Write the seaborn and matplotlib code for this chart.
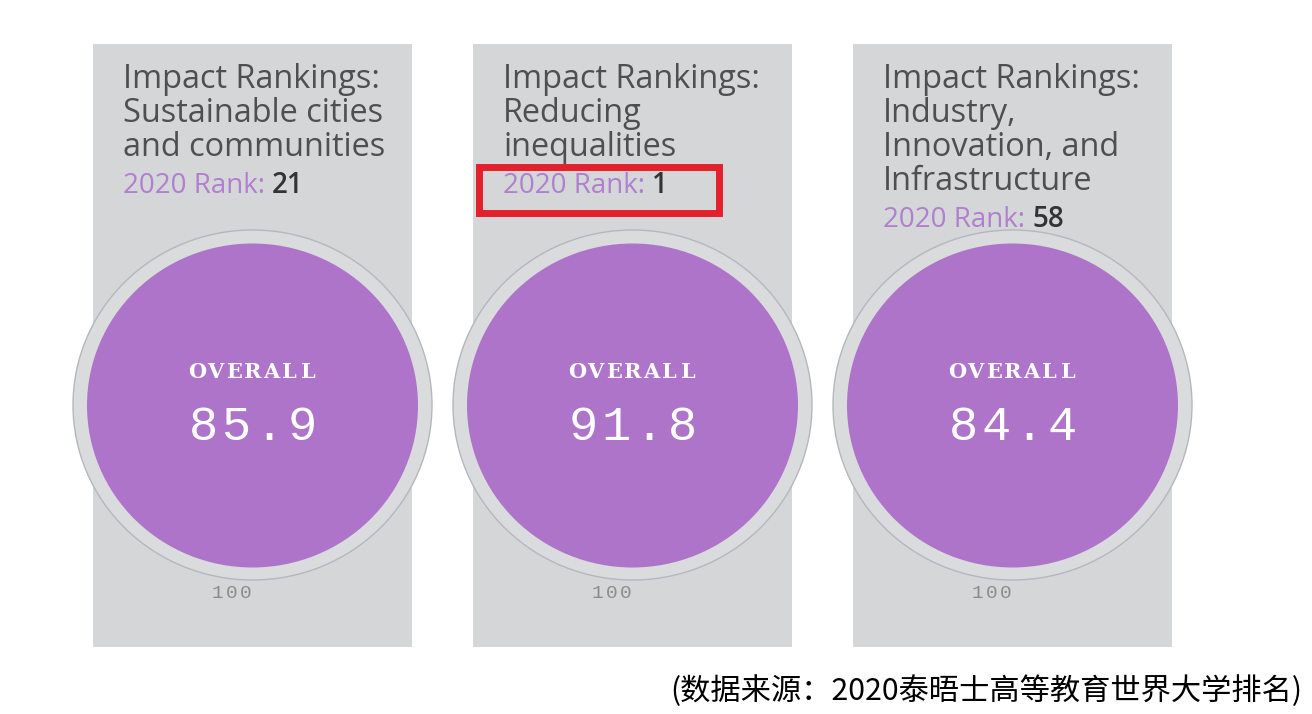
import numpy as np
import pandas as pd
import matplotlib
matplotlib.use("Agg")
import matplotlib.pyplot as plt
import seaborn as sns
from matplotlib.patches import Ellipse, Rectangle

sns.set_theme(style="white")
plt.rcParams['font.family'] = ['Open Sans', 'DejaVu Sans']

# --- data ---
titles = [
    "Impact Rankings:\nSustainable cities\nand communities",
    "Impact Rankings:\nReducing\ninequalities",
    "Impact Rankings:\nIndustry,\nInnovation, and\nInfrastructure",
]
ranks = [21, 1, 58]
scores = [85.9, 91.8, 84.4]
rank_year = 2020
score_max = 100
highlight = 1  # panel with the red box
source_note = "(数据来源：2020泰晤士高等教育世界大学排名)"

# --- layout (pixels) ---
W, H = 1312, 714
first_x, pitch = 252.5, 380
panel_w, panel_top, panel_bot = 319, 44, 647
circ_y = 405
panel_col = "#d4d6d8"
purple = "#ae74c9"
title_col = "#4f4f4f"
rank_col = "#b17fcf"

df = pd.DataFrame({"title": titles, "rank": ranks, "score": scores})
df["xc"] = first_x + pitch * np.arange(len(df))
df["panel_h"] = panel_bot - panel_top

fig = plt.figure(figsize=(W / 100, H / 100), dpi=100)
ax = fig.add_axes([0, 0, 1, 1])

sns.barplot(data=df, x="xc", y="panel_h", native_scale=True, orient="x",
            width=panel_w / pitch, bottom=panel_top, color=panel_col,
            saturation=1, edgecolor="none", ax=ax, zorder=1)

for i, row in df.iterrows():
    xc = row["xc"]
    left = xc - panel_w / 2 + 30

    # title lines
    lines = row["title"].split("\n")
    base = 88
    for k, ln in enumerate(lines):
        ax.text(left, base + 34 * k, ln, fontsize=23.4, color=title_col,
                ha="left", va="baseline", zorder=5)
    rank_y = base + 34 * (len(lines) - 1) + 37
    t = ax.text(left, rank_y, f"{rank_year} Rank:", fontsize=20, color=rank_col,
                ha="left", va="baseline", fontweight="medium", zorder=5)
    ax.annotate(str(row["rank"]), xy=(1, 0), xycoords=t, xytext=(5, 0),
                textcoords="offset points", ha="left", va="bottom",
                fontsize=20, color="#333333", fontweight="semibold", zorder=5)
    if i == highlight:
        ax.add_patch(Rectangle((xc - 154, rank_y - 26), 240, 46, fill=False,
                               edgecolor="#e3202b", linewidth=5, zorder=6))

    # gauge
    ax.add_patch(Ellipse((xc, circ_y), 359, 350, facecolor="#d9dbdd",
                         edgecolor="#b5b7ba", linewidth=1, zorder=2))
    ax.add_patch(Ellipse((xc, circ_y + 0.5), 331, 324, facecolor=purple,
                         edgecolor="none", zorder=3))

    word = "OVERALL"
    for j, ch in enumerate(word):
        ax.text(xc + (j - (len(word) - 1) / 2) * 18.6, 372, ch,
                fontsize=15, family="DejaVu Serif", fontweight="bold",
                color="white", ha="center", va="center", zorder=5)
    val = f"{row['score']:.1f}"
    for j, ch in enumerate(val):
        ax.text(xc + (j - (len(val) - 1) / 2) * 33, 428, ch,
                fontsize=35, family="Liberation Mono", color="white",
                ha="center", va="center", zorder=5)
    mx = str(score_max)
    for j, ch in enumerate(mx):
        ax.text(xc - 21 + (j - 1) * 14.5, 593, ch,
                fontsize=14, family="Liberation Mono", color="#8c8c8c",
                ha="center", va="center", zorder=5)

ax.text(1302, 691, source_note, fontsize=21.8,
        family=["Noto Sans CJK SC", "DejaVu Sans"], color="black",
        ha="right", va="center", zorder=5)

ax.set_xlim(0, W)
ax.set_ylim(H, 0)
ax.axis("off")

fig.savefig("out.png", dpi=100, facecolor="white")
